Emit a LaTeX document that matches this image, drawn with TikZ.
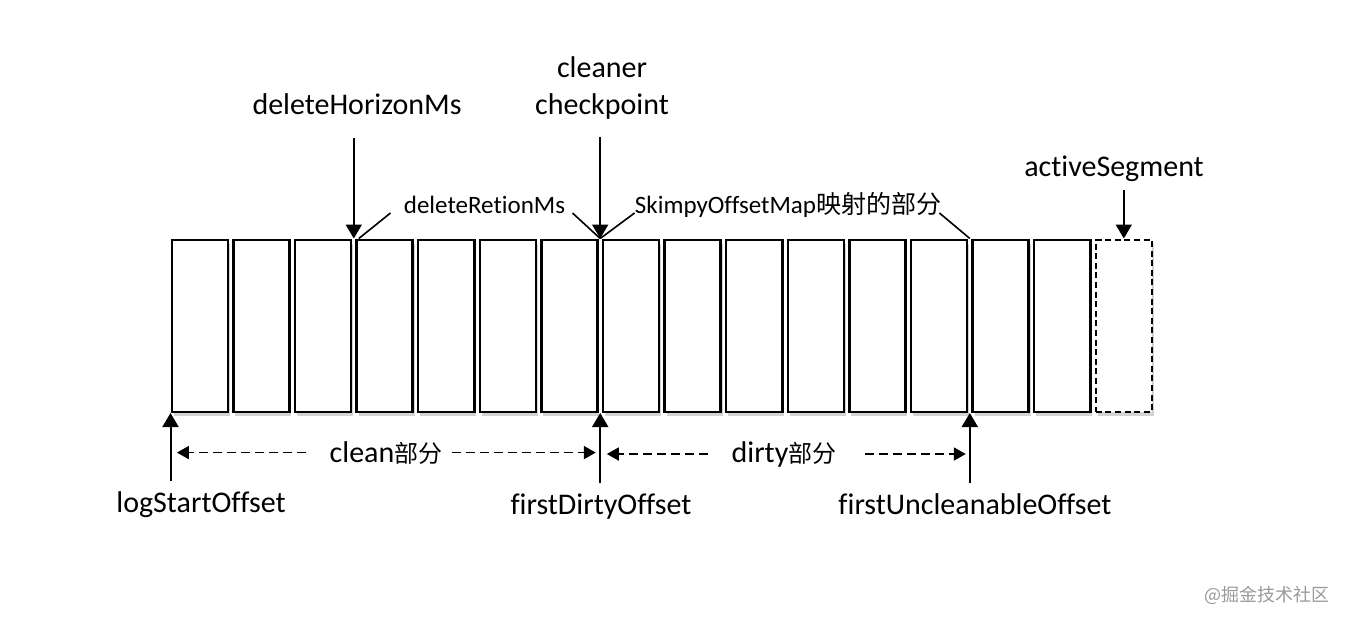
\documentclass[tikz,border=0pt]{standalone}
\usepackage{fontspec}
\setmainfont{Carlito}[Ligatures=NoCommon]
\newfontfamily\cjk{Noto Sans CJK SC}
\usepackage{tikz}
\usetikzlibrary{arrows.meta,calc,positioning,shadows}
\tikzset{
    %Define standard arrow tip
    >={Triangle[length=7pt,width=8pt]},
    %Define style for segment boxes
    segbox/.style={
           rectangle,
           draw=black, line width=1.25pt,
           minimum width=28.05pt,
           minimum height=86pt,
           fill=white,
           drop shadow={shadow xshift=1pt, shadow yshift=-2pt, opacity=0.35}
           },
    activebox/.style={
           segbox,
           dash pattern=on 3pt off 1.8pt
           },
    %Define style for labels
    offsetlbl/.style={
           font=\fontsize{15}{18.5}\selectfont,
           inner sep=0pt,
           align=center},
    smalllbl/.style={
           font=\fontsize{12.5}{14}\selectfont,
           inner sep=0pt},
    % Define arrow styles
    pil/.style={
           ->,
           line width=1pt},
    spanpil/.style={
           -{Triangle[length=6pt,width=6.5pt]},
           line width=0.9pt,
           dash pattern=on 4.5pt off 2.5pt},
    leader/.style={
           line width=0.8pt}
}
\begin{document}
\begin{tikzpicture}[x=0.5pt,y=-0.5pt,node distance=1.5pt]
\useasboundingbox (0,0) rectangle (1348,622);
 %segments
\node[segbox](s1) at (199.8,325.75){};
\foreach \i [remember=\i as \prev (initially 1)] in {2,...,15}
    \node[segbox, right=of s\prev](s\i){};
\node[activebox, right=of s15](s16){};
\coordinate (g34) at ($(s3.north east)!.5!(s4.north west)$);
\coordinate (g78) at ($(s7.north east)!.5!(s8.north west)$);
\coordinate (g1314) at ($(s13.north east)!.5!(s14.north west)$);
\coordinate (d78) at ($(s7.south east)!.5!(s8.south west)$);
\coordinate (d1314) at ($(s13.south east)!.5!(s14.south west)$);
 %labels above
\node[offsetlbl, anchor=base](horizon) at (357,114){deleteHorizonMs};
\node[offsetlbl](checkpoint) at (602,88){cleaner\\checkpoint};
\node[offsetlbl, anchor=base](active) at (1114,176){activeSegment};
\node[smalllbl, anchor=base](retion) at (484.5,213){deleteRetionMs};
\node[smalllbl, anchor=base](skimpy) at (788,213){SkimpyOffsetMap{\cjk 映射的部分}};
\draw[pil, shorten <=11.5pt] (horizon.south -| g34) -- (g34);
\draw[pil, shorten <=8.5pt] (checkpoint.south -| g78) -- (g78);
\draw[pil, shorten <=4pt] (active.south -| s16.north) -- (s16.north);
\draw[leader] ([xshift=-6.5pt]retion.base west) -- ([xshift=2.5pt]g34);
\draw[leader] ([xshift=3.5pt]retion.base east) -- (g78);
\draw[leader] (skimpy.base west) -- (g78);
\draw[leader] ([xshift=-1pt]skimpy.base east) -- (g1314);
 %labels below
\node[offsetlbl, anchor=base](logstart) at (201,512){logStartOffset};
\node[offsetlbl, anchor=base](firstdirty) at (601,514){firstDirtyOffset};
\node[offsetlbl, anchor=base](uncleanable) at (975,514){firstUncleanableOffset};
\draw[pil, shorten <=5pt] (logstart.north -| s1.south west) -- (s1.south west);
\draw[pil, shorten <=5pt] (firstdirty.north -| d78) -- (d78);
\draw[pil, shorten <=5pt] (uncleanable.north -| d1314) -- (d1314);
 %clean and dirty parts
\node[offsetlbl, anchor=base](clean) at (386,462){clean{\cjk\fontsize{12}{14}\selectfont 部分}};
\node[offsetlbl, anchor=base](dirty) at (784,462){dirty{\cjk\fontsize{12}{14}\selectfont 部分}};
\draw[spanpil, shorten <=11.5pt, shorten >=3.2pt] (clean.west) -- (clean.west -| s1.south west);
\draw[spanpil, shorten <=4.5pt, shorten >=2.2pt] (clean.east) -- (clean.east -| d78);
\draw[spanpil, shorten <=11.5pt, shorten >=3.3pt] (dirty.west) -- (dirty.west -| d78);
\draw[spanpil, shorten <=14pt, shorten >=2pt] (dirty.east) -- (dirty.east -| d1314);
\node[font=\cjk\fontsize{9}{10}\selectfont, text=black!40, anchor=base](mark) at (1267,601){@掘金技术社区};
\end{tikzpicture}
\end{document}
